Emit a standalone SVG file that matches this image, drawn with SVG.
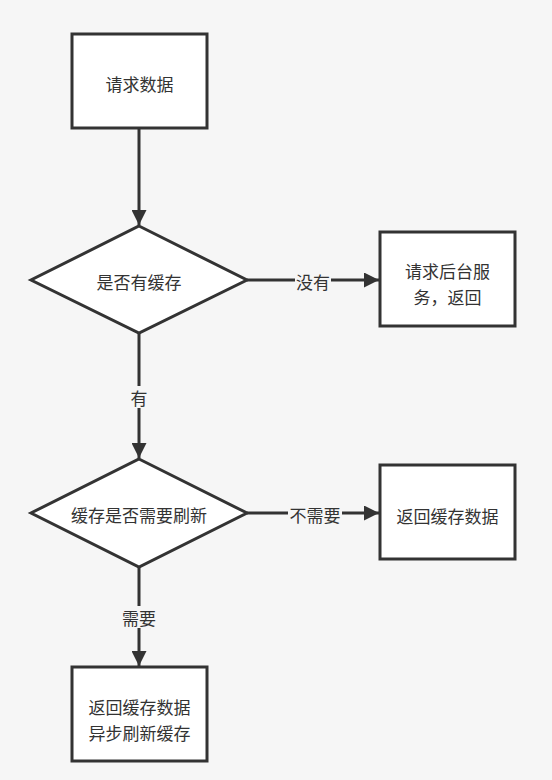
<svg xmlns="http://www.w3.org/2000/svg" width="552" height="780" viewBox="0 0 552 780">
<defs>
<style>
.box{fill:#ffffff;stroke:#333333;stroke-width:3}
.edge{fill:none;stroke:#333333;stroke-width:3}
.t{font-family:"Noto Sans CJK SC","Noto Sans",sans-serif;font-size:17px;fill:#333333;text-anchor:middle;dominant-baseline:central}
.lbl{fill:#f6f6f6}
</style>
<marker id="arr" viewBox="0 0 10 10" refX="10" refY="5" markerWidth="7" markerHeight="5" orient="auto" markerUnits="strokeWidth">
<path d="M0,0 L10,5 L0,10 z" fill="#333333"/>
</marker>
</defs>
<rect width="552" height="780" fill="#f6f6f6"/>
<g id="connectors">
<line class="edge" x1="139" y1="129" x2="139" y2="225" marker-end="url(#arr)"/>
<line class="edge" x1="247" y1="280" x2="379" y2="280" marker-end="url(#arr)"/>
<rect class="lbl" x="295" y="270" width="36" height="22"/>
<text class="t" x="313" y="281">没有</text>
<line class="edge" x1="139" y1="333" x2="139" y2="458" marker-end="url(#arr)"/>
<rect class="lbl" x="129" y="386" width="20" height="22"/>
<text class="t" x="139" y="397">有</text>
<line class="edge" x1="247" y1="513" x2="379" y2="513" marker-end="url(#arr)"/>
<rect class="lbl" x="288" y="503" width="54" height="22"/>
<text class="t" x="315" y="514">不需要</text>
<line class="edge" x1="139" y1="567" x2="139" y2="666" marker-end="url(#arr)"/>
<rect class="lbl" x="121" y="606" width="36" height="22"/>
<text class="t" x="139" y="617">需要</text>
</g>
<g id="n1">
<rect class="box" x="72" y="34" width="135" height="94"/>
<text class="t" x="139.5" y="83">请求数据</text>
</g>
<g id="n2">
<polygon class="box" points="139,226 247,280 139,333 31,280"/>
<text class="t" x="139" y="281">是否有缓存</text>
</g>
<g id="n3">
<rect class="box" x="380" y="232" width="135" height="94"/>
<text class="t" x="447.5" y="270">请求后台服</text>
<text class="t" x="447.5" y="296">务，返回</text>
</g>
<g id="n4">
<polygon class="box" points="139,459 247,513 139,567 31,513"/>
<text class="t" x="139" y="514">缓存是否需要刷新</text>
</g>
<g id="n5">
<rect class="box" x="380" y="465" width="135" height="94"/>
<text class="t" x="447.5" y="515">返回缓存数据</text>
</g>
<g id="n6">
<rect class="box" x="72" y="667" width="135" height="94"/>
<text class="t" x="139.5" y="706">返回缓存数据</text>
<text class="t" x="139.5" y="732">异步刷新缓存</text>
</g>
</svg>
